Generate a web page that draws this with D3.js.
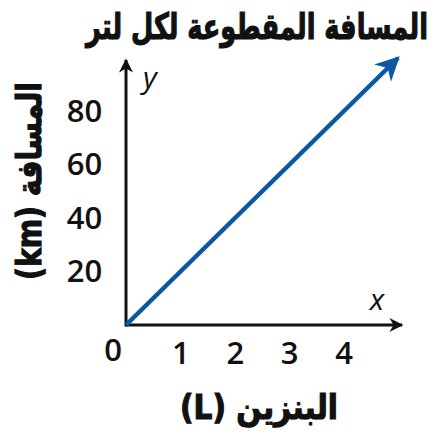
<!DOCTYPE html>
<html>
<head>
<meta charset="utf-8">
<script src="https://cdn.jsdelivr.net/npm/d3@7"></script>
<style>
  body { margin: 0; background: #fff; }
  svg { display: block; }
</style>
</head>
<body>
<div id="chart"></div>
<script>
// data
const xTicks = [1, 2, 3, 4];
const yTicks = [20, 40, 60, 80];
const fuel = [0, 5];        // L
const distance = [0, 100];  // km
const title = 'المسافة المقطوعة لكل لتر';
const yTitle = 'المسافة (km)';
const xTitle = 'البنزين (L)';

const W = 436, H = 431;
const svg = d3.select('#chart').append('svg')
  .attr('width', W).attr('height', H);

const x = d3.scaleLinear().domain([0, 5]).range([126, 398]);
const y = d3.scaleLinear().domain([0, 100]).range([325, 58]);

const defs = svg.append('defs');
function marker(id, color, w, h) {
  defs.append('marker')
    .attr('id', id)
    .attr('viewBox', '0 0 10 10')
    .attr('refX', 9).attr('refY', 5)
    .attr('markerUnits', 'userSpaceOnUse')
    .attr('markerWidth', w).attr('markerHeight', h)
    .attr('orient', 'auto')
    .append('path')
    .attr('d', 'M0,0 L10,5 L0,10 L3,5 Z')
    .attr('fill', color);
}
marker('arrK', '#111', 22, 14);
marker('arrB', '#0b57a4', 32, 24);

// axes lines with arrows
svg.append('line')
  .attr('x1', x(0)).attr('y1', y(0))
  .attr('x2', 402).attr('y2', y(0))
  .attr('stroke', '#111').attr('stroke-width', 3)
  .attr('marker-end', 'url(#arrK)');
svg.append('line')
  .attr('x1', x(0)).attr('y1', y(0) + 1.5)
  .attr('x2', x(0)).attr('y2', 60)
  .attr('stroke', '#111').attr('stroke-width', 3)
  .attr('marker-end', 'url(#arrK)');

// tick labels via d3 axes
const gx = svg.append('g')
  .attr('transform', `translate(0,${y(0) + 17})`)
  .call(d3.axisBottom(x).tickValues(xTicks).tickFormat(d3.format('d')).tickSize(0).tickPadding(0));
const gy = svg.append('g')
  .attr('transform', `translate(${x(0) - 23},0)`)
  .call(d3.axisLeft(y).tickValues(yTicks).tickFormat(d3.format('d')).tickSize(0).tickPadding(0));
[gx, gy].forEach(g => {
  g.select('.domain').remove();
  g.selectAll('text')
    .attr('font-family', 'Open Sans, sans-serif')
    .attr('font-weight', 600)
    .attr('font-size', 31)
    .attr('fill', '#111');
});
gx.selectAll('text').attr('dy', '0.71em');
gy.selectAll('text').attr('text-anchor', 'middle').attr('dx', '-0.6em');

svg.append('text')
  .attr('x', 113).attr('y', y(0) + 36)
  .attr('text-anchor', 'middle')
  .attr('font-family', 'Open Sans, sans-serif')
  .attr('font-weight', 600)
  .attr('font-size', 31).attr('fill', '#111')
  .text('0');

// the line
const line = d3.line().x(d => x(d[0])).y(d => y(d[1]));
svg.append('path')
  .datum(d3.zip(fuel, distance))
  .attr('d', line)
  .attr('fill', 'none')
  .attr('stroke', '#0b57a4')
  .attr('stroke-width', 4.5)
  .attr('marker-end', 'url(#arrB)');

// axis letters
svg.append('text')
  .attr('x', 150).attr('y', 88)
  .attr('text-anchor', 'middle')
  .attr('font-family', 'Open Sans, sans-serif')
  .attr('font-style', 'italic')
  .attr('font-size', 30).attr('fill', '#111')
  .text('y');
svg.append('text')
  .attr('x', 377).attr('y', 310)
  .attr('text-anchor', 'middle')
  .attr('font-family', 'Open Sans, sans-serif')
  .attr('font-style', 'italic')
  .attr('font-size', 30).attr('fill', '#111')
  .text('x');

// Arabic titles, squeezed to the widths seen in the picture
function arabic(txt, cx, cy, width, size, rotate) {
  const g = svg.append('g')
    .attr('transform', `translate(${cx},${cy}) rotate(${rotate || 0})`);
  const t = g.append('text')
    .attr('direction', 'rtl')
    .attr('text-anchor', 'middle')
    .attr('dominant-baseline', 'central')
    .attr('font-family', 'DejaVu Sans, sans-serif')
    .attr('font-weight', 'bold')
    .attr('font-size', size)
    .attr('fill', '#111')
    .attr('stroke', '#111')
    .attr('stroke-width', 1.2)
    .text(txt);
  const len = t.node().getComputedTextLength();
  t.attr('transform', `scale(${width / len},1)`);
  return t;
}
arabic(title, 257, 26, 342, 36);
arabic(yTitle, 29, 181, 198, 34, -90);
arabic(xTitle, 259, 407, 158, 34);
</script>
</body>
</html>
